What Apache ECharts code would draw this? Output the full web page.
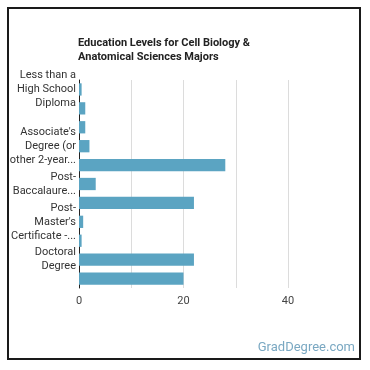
<!DOCTYPE html>
<html>
<head>
<meta charset="utf-8">
<script src="https://cdn.jsdelivr.net/npm/echarts@6/dist/echarts.min.js"></script>
<style>
  html, body { margin: 0; padding: 0; background: #fff; }
  #chart { width: 370px; height: 370px; }
</style>
</head>
<body>
<div id="chart"></div>
<script>
// niveles de educacion (categorias) y porcentajes
var categorias = [
  "Less than a High School Diploma",
  "High School Diploma",
  "Post-Secondary Certificate",
  "Associate's Degree (or other 2-year degree)",
  "Bachelor's Degree",
  "Post-Baccalaureate Certificate",
  "Master's Degree",
  "Post-Master's Certificate - awarded for completion of an organized program of study",
  "First Professional Degree",
  "Doctoral Degree",
  "Post-Doctoral Training"
];
var valores = [0.5, 1.2, 1.2, 2, 28, 3.2, 22, 0.8, 0.5, 22, 20];
// solo estas etiquetas se ven en el eje
var etiquetasVisibles = [0, 3, 5, 7, 9];
var ticksX = [0, 20, 40];

var fuente = "11px Roboto";
var ctx = document.createElement("canvas").getContext("2d");
ctx.font = fuente;
function medir(t) { return ctx.measureText(t).width; }

// corta el texto en lineas de ancho maximo, con "..." si sobra
function partir(texto, maxW, maxLineas) {
  var tokens = [];
  texto.split(" ").forEach(function (w, i) {
    w.split(/(?<=-)/).forEach(function (p, j) {
      tokens.push({ t: p, sep: (j == 0 && i > 0) ? " " : "" });
    });
  });
  var lineas = [];
  var cur = "";
  for (var k = 0; k < tokens.length; k++) {
    var tok = tokens[k];
    if (cur == "") {
      if (medir(tok.t) > maxW) {
        var s = tok.t;
        while (s.length > 1 && medir(s + "...") > maxW) s = s.slice(0, -1);
        lineas.push(s + "...");
        return lineas.join("\n");
      }
      cur = tok.t;
      continue;
    }
    var cand = cur + tok.sep + tok.t;
    if (medir(cand) <= maxW) {
      cur = cand;
    } else {
      if (lineas.length == maxLineas - 1) {
        lineas.push(cur + "...");
        return lineas.join("\n");
      }
      lineas.push(cur);
      cur = "";
      k--;
    }
  }
  if (cur) lineas.push(cur);
  return lineas.join("\n");
}

var myChart = echarts.init(document.getElementById("chart"));
var option = {
  animation: false,
  title: {
    text: "Education Levels for Cell Biology &\nAnatomical Sciences Majors",
    left: 78,
    top: 36,
    padding: 0,
    textStyle: { fontFamily: "Roboto", fontSize: 11, fontWeight: "bold", color: "#222", lineHeight: 14 }
  },
  graphic: [
    {
      type: "rect",
      shape: { x: 8, y: 8, width: 352, height: 351 },
      style: { fill: "none", stroke: "#1a1a1a", lineWidth: 2 }
    },
    {
      type: "text",
      right: 15,
      top: 341,
      style: { text: "GradDegree.com", fill: "#7aa8c2", font: "13px Roboto" }
    }
  ],
  grid: { left: 79, right: 82, top: 80, bottom: 82, containLabel: false },
  xAxis: {
    type: "value",
    min: 0,
    max: 40,
    interval: 10,
    axisLine: { show: false },
    axisTick: { show: false },
    splitLine: { lineStyle: { color: "#dcdcdc", width: 1 } },
    axisLabel: {
      color: "#444",
      fontFamily: "Roboto",
      fontSize: 11,
      margin: 8,
      formatter: function (v) { return ticksX.indexOf(v) >= 0 ? String(v) : ""; }
    }
  },
  yAxis: {
    type: "category",
    data: categorias,
    inverse: true,
    axisLine: { show: true, lineStyle: { color: "#222", width: 1 } },
    axisTick: { show: false },
    axisLabel: {
      interval: 0,
      color: "#333",
      fontFamily: "Roboto",
      fontSize: 11,
      lineHeight: 14,
      margin: 3,
      formatter: function (v, i) {
        return etiquetasVisibles.indexOf(i) >= 0 ? partir(v, 65, 3) : "";
      }
    }
  },
  series: [{
    type: "bar",
    data: valores,
    barCategoryGap: "35%",
    itemStyle: { color: "#5ba4c2" }
  }]
};
myChart.setOption(option);
</script>
</body>
</html>
